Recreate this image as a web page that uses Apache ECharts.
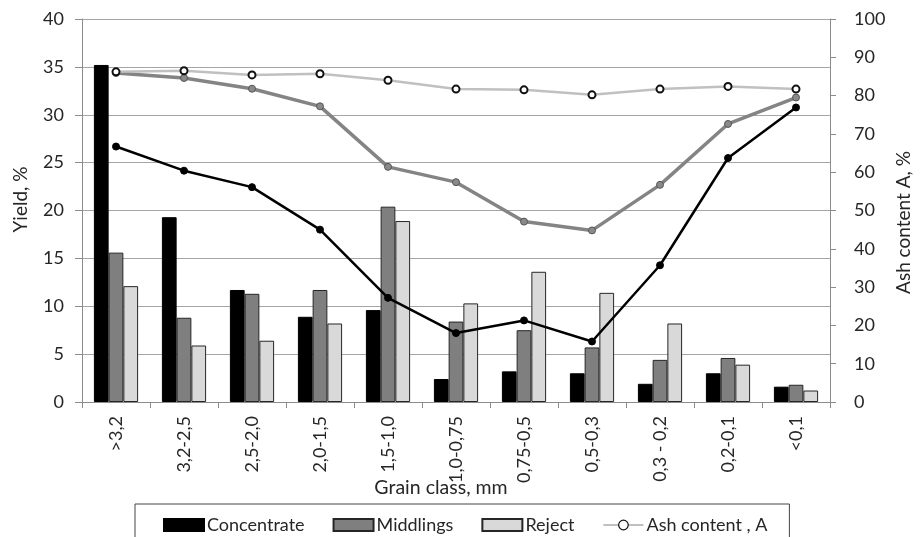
<!DOCTYPE html>
<html>
<head>
<meta charset="utf-8">
<script src="https://cdn.jsdelivr.net/npm/echarts@6/dist/echarts.min.js"></script>
<style>
html,body{margin:0;padding:0;background:#fff;}
#chart{width:921px;height:537px;}
</style>
</head>
<body>
<div id="chart"></div>
<script>
const categories = ['>3,2','3,2-2,5','2,5-2,0','2,0-1,5','1,5-1,0','1,0-0,75','0,75-0,5','0,5-0,3','0,3 - 0,2','0,2-0,1','<0,1'];
const concentrateYield = [35.2, 19.3, 11.7, 8.9, 9.6, 2.4, 3.2, 3.0, 1.9, 3.0, 1.6];
const middlingsYield   = [15.6, 8.8, 11.3, 11.7, 20.4, 8.4, 7.5, 5.7, 4.4, 4.6, 1.8];
const rejectYield      = [12.1, 5.9, 6.4, 8.2, 18.9, 10.3, 13.6, 11.4, 8.2, 3.9, 1.2];
const concentrateAsh   = [66.7, 60.4, 56.1, 45.0, 27.2, 18.0, 21.3, 15.8, 35.7, 63.7, 76.9];
const middlingsAsh     = [85.9, 84.6, 81.8, 77.2, 61.4, 57.4, 47.1, 44.8, 56.7, 72.6, 79.5];
const rejectAsh        = [86.2, 86.5, 85.4, 85.7, 84.0, 81.7, 81.5, 80.2, 81.7, 82.4, 81.7];
const yieldTicks = {min: 0, max: 40, interval: 5};
const ashTicks = {min: 0, max: 100, interval: 10};

const FONT = 'Lato';
const TXT = '#262626';
const chart = echarts.init(document.getElementById('chart'));
chart.setOption({
  animation: false,
  textStyle: {fontFamily: FONT},
  grid: {left: 82, right: 74, top: 19, bottom: 135, containLabel: false},
  legend: {
    data: [
      {name: 'Concentrate', icon: 'rect'},
      {name: 'Middlings', icon: 'rect'},
      {name: 'Reject', icon: 'rect'},
      {name: 'Ash content , A', itemStyle: {borderWidth: 1.2}, lineStyle: {width: 2}}
    ],
    left: 135, top: 504,
    width: 662,
    padding: [12, 22, 20, 28],
    itemGap: 28,
    itemWidth: 40, itemHeight: 12,
    borderColor: '#444', borderWidth: 1,
    textStyle: {fontFamily: FONT, fontSize: 18, color: TXT, padding: [0, 0, 0, -2]}
  },
  xAxis: {
    type: 'category',
    data: categories,
    name: 'Grain class, mm',
    nameLocation: 'middle',
    nameMoveOverlap: false,
    nameGap: 76,
    nameTextStyle: {fontFamily: FONT, fontSize: 19.5, color: TXT, padding: [0, 30, 0, 0]},
    axisLine: {lineStyle: {color: '#8c8c8c', width: 1}},
    axisTick: {show: true, length: 6, lineStyle: {color: '#8c8c8c'}},
    axisLabel: {rotate: 90, interval: 0, margin: 14, fontSize: 18, color: TXT, fontFamily: FONT}
  },
  yAxis: [
    {
      type: 'value', min: yieldTicks.min, max: yieldTicks.max, interval: yieldTicks.interval,
      name: 'Yield, %', nameLocation: 'middle', nameRotate: 90, nameGap: 52,
      nameMoveOverlap: false,
      nameTextStyle: {fontFamily: FONT, fontSize: 19, color: TXT, padding: [0, 0, 0, 22]},
      axisLine: {show: true, lineStyle: {color: '#8c8c8c'}},
      axisTick: {show: true, length: 7, lineStyle: {color: '#8c8c8c'}},
      axisLabel: {margin: 18, fontSize: 18, color: TXT, fontFamily: FONT},
      splitLine: {show: true, lineStyle: {color: '#a6a6a6', width: 1}}
    },
    {
      type: 'value', min: ashTicks.min, max: ashTicks.max, interval: ashTicks.interval,
      name: 'Ash content A, %', nameLocation: 'middle', nameRotate: 90, nameGap: 64,
      nameMoveOverlap: false,
      nameTextStyle: {fontFamily: FONT, fontSize: 19, color: TXT, padding: [0, 24, 0, 0]},
      axisLine: {show: true, lineStyle: {color: '#8c8c8c'}},
      axisTick: {show: true, length: 6, lineStyle: {color: '#8c8c8c'}},
      axisLabel: {margin: 24, fontSize: 18, color: TXT, fontFamily: FONT},
      splitLine: {show: false}
    }
  ],
  series: [
    {name: 'Concentrate', type: 'bar', data: concentrateYield, yAxisIndex: 0,
     barGap: '0%', barCategoryGap: '35%',
     itemStyle: {color: '#000000', borderColor: '#000', borderWidth: 1}},
    {name: 'Middlings', type: 'bar', data: middlingsYield, yAxisIndex: 0,
     barGap: '0%', barCategoryGap: '35%',
     itemStyle: {color: '#7f7f7f', borderColor: '#262626', borderWidth: 1}},
    {name: 'Reject', type: 'bar', data: rejectYield, yAxisIndex: 0,
     barGap: '0%', barCategoryGap: '35%',
     itemStyle: {color: '#d9d9d9', borderColor: '#262626', borderWidth: 1}},
    {name: 'Ash content , A', type: 'line', data: rejectAsh, yAxisIndex: 1, z: 5,
     symbol: 'circle', symbolSize: 7,
     lineStyle: {color: '#c0c0c0', width: 2.5},
     itemStyle: {color: '#ffffff', borderColor: '#111', borderWidth: 2}},
    {name: 'Middlings ash', type: 'line', data: middlingsAsh, yAxisIndex: 1, z: 4,
     symbol: 'circle', symbolSize: 7,
     lineStyle: {color: '#848484', width: 3.5},
     itemStyle: {color: '#8a8a8a', borderColor: '#555', borderWidth: 1}},
    {name: 'Concentrate ash', type: 'line', data: concentrateAsh, yAxisIndex: 1, z: 4,
     symbol: 'circle', symbolSize: 7,
     lineStyle: {color: '#000', width: 2.5},
     itemStyle: {color: '#000', borderColor: '#000', borderWidth: 1}}
  ]
});
</script>
</body>
</html>
